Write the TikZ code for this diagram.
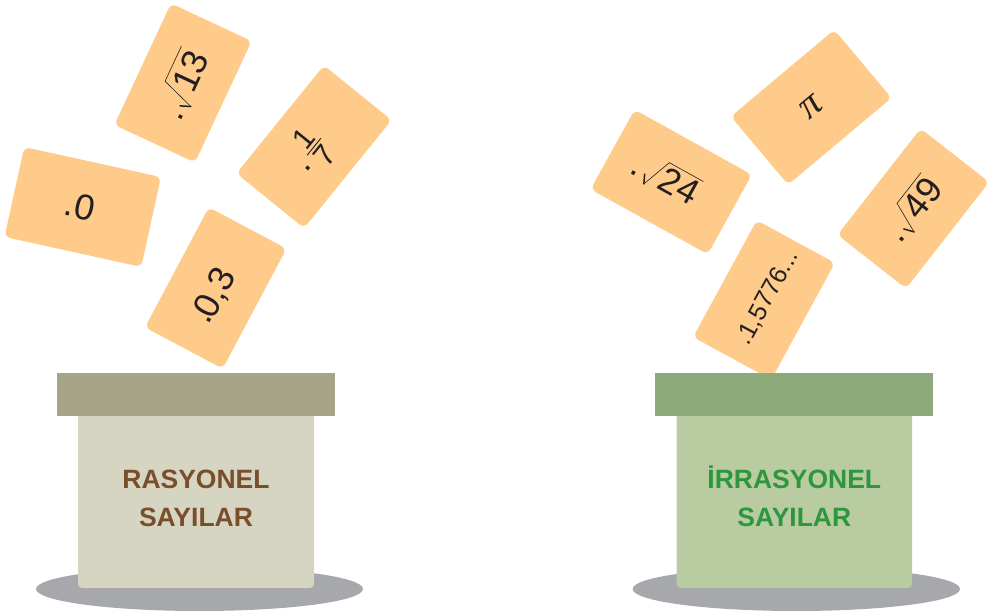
\documentclass[tikz,border=0pt]{standalone}
\usepackage{fontspec}
\setmainfont{Liberation Sans}
\newfontfamily\pifont{Liberation Serif}
\definecolor{cardc}{HTML}{FECB8B}
\definecolor{ink}{HTML}{231F20}
\definecolor{shadowc}{HTML}{A7A8AC}
\definecolor{lidL}{HTML}{A6A587}
\definecolor{bodyL}{HTML}{D6D5C1}
\definecolor{textL}{HTML}{7A4E2C}
\definecolor{lidR}{HTML}{8DAA7A}
\definecolor{bodyR}{HTML}{B9CCA1}
\definecolor{textR}{HTML}{2E963E}
\tikzset{
  card/.style={fill=cardc, draw=none, rounded corners=6pt, inner sep=0pt, transform shape},
  num/.style={font=\fontsize{36}{40}\selectfont, text=ink, inner sep=0pt, transform shape},
  fracnum/.style={font=\fontsize{30}{34}\selectfont, text=ink, inner sep=0pt, transform shape},
  smallnum/.style={font=\fontsize{25}{29}\selectfont, text=ink, inner sep=0pt, transform shape},
  rad/.style={draw=ink, line width=0.6pt, line join=miter},
  radarm/.style={draw=ink, line width=1.5pt, line cap=round},
  boxlab/.style={font=\fontsize{26.5}{30}\selectfont\bfseries, inner sep=0pt, anchor=base}
}
\begin{document}
\begin{tikzpicture}[x=1pt,y=1pt]
\useasboundingbox (0,0) rectangle (989,612);
% shadows
\fill[shadowc] (199.5,23) ellipse [x radius=163.5pt, y radius=22pt];
\fill[shadowc] (796.3,23) ellipse [x radius=163.7pt, y radius=22pt];

% ---- left cards ----
\begin{scope}[shift={(82.75,405)}, rotate=-12.4]
  \node[card, minimum width=140pt, minimum height=92pt] (c1) at (0,0) {};
  \node[num, anchor=base west] (t1) at (-18,-12) {.0};
\end{scope}

\begin{scope}[shift={(183,529)}, rotate=65]
  \node[card, minimum width=134pt, minimum height=89pt] (c2) at (0,0) {};
  \node[num, anchor=base] (d2) at (-32,-14) {.};
  \node[num, anchor=base west] (t2) at (-6,-14) {13};
  \draw[radarm] (-22,-7) -- (-18,-17);
  \draw[rad] (-18,-17) -- (-6,17) -- (33,17);
\end{scope}

\begin{scope}[shift={(314,465.25)}, rotate=51]
  \node[card, minimum width=139pt, minimum height=87pt] (c3) at (0,0) {};
  \node[num, anchor=base] (d3) at (-21,-11) {.};
  \node[fracnum, anchor=south] (n3) at (0,3) {1};
  \node[fracnum, anchor=north] (m3) at (0,-3) {7};
  \draw[ink, line width=0.9pt] (-11,0) -- (11,0);
\end{scope}

\begin{scope}[shift={(215.75,324)}, rotate=62]
  \node[card, minimum width=136pt, minimum height=88pt] (c4) at (0,0) {};
  \node[num, anchor=base] (d4) at (-32,-11) {.};
  \node[num, anchor=base west] (t4) at (-30,-13) {0,3};
\end{scope}

% ---- right cards ----
\begin{scope}[shift={(671.2,430)}, rotate=-29]
  \node[card, minimum width=134pt, minimum height=91pt] (c5) at (0,0) {};
  \node[num, anchor=base] (d5) at (-37,-13) {.};
  \node[num, anchor=base west] (t5) at (-11,-12) {24};
  \draw[radarm] (-27,-6) -- (-23,-15);
  \draw[rad] (-23,-15) -- (-11,16) -- (28,16);
\end{scope}

\begin{scope}[shift={(811.2,504.75)}, rotate=40]
  \node[card, minimum width=135pt, minimum height=89pt] (c6) at (0,0) {};
  \node[num, font=\fontsize{40}{44}\pifont\itshape] (t6) at (0,0) {π};
\end{scope}

\begin{scope}[shift={(913.3,403.5)}, rotate=52]
  \node[card, minimum width=135pt, minimum height=87pt] (c7) at (0,0) {};
  \node[num, anchor=base] (d7) at (-31,-12) {.};
  \node[num, anchor=base west] (t7) at (-6,-13) {49};
  \draw[radarm] (-22,-5) -- (-18,-15);
  \draw[rad] (-18,-15) -- (-6,16) -- (33,16);
\end{scope}

\begin{scope}[shift={(764,312)}, rotate=61.4]
  \node[card, minimum width=133pt, minimum height=89pt] (c8) at (0,0) {};
  \node[smallnum, anchor=base] (t8) at (4,-9) {.1,5776...};
\end{scope}

% ---- boxes ----
\fill[bodyL, rounded corners=4pt] (78,24) rectangle (314,205);
\fill[lidL] (57,196) rectangle (335,239);
\node[boxlab, text=textL] (l1) at (196,123.5) {RASYONEL};
\node[boxlab, text=textL] (l2) at (196,85.5) {SAYILAR};

\fill[bodyR, rounded corners=4pt] (676.7,24) rectangle (912,205);
\fill[lidR] (655,196) rectangle (932.7,239);
\node[boxlab, text=textR] (r1) at (794.3,123.5) {İRRASYONEL};
\node[boxlab, text=textR] (r2) at (794.3,85.5) {SAYILAR};
\end{tikzpicture}
\end{document}
